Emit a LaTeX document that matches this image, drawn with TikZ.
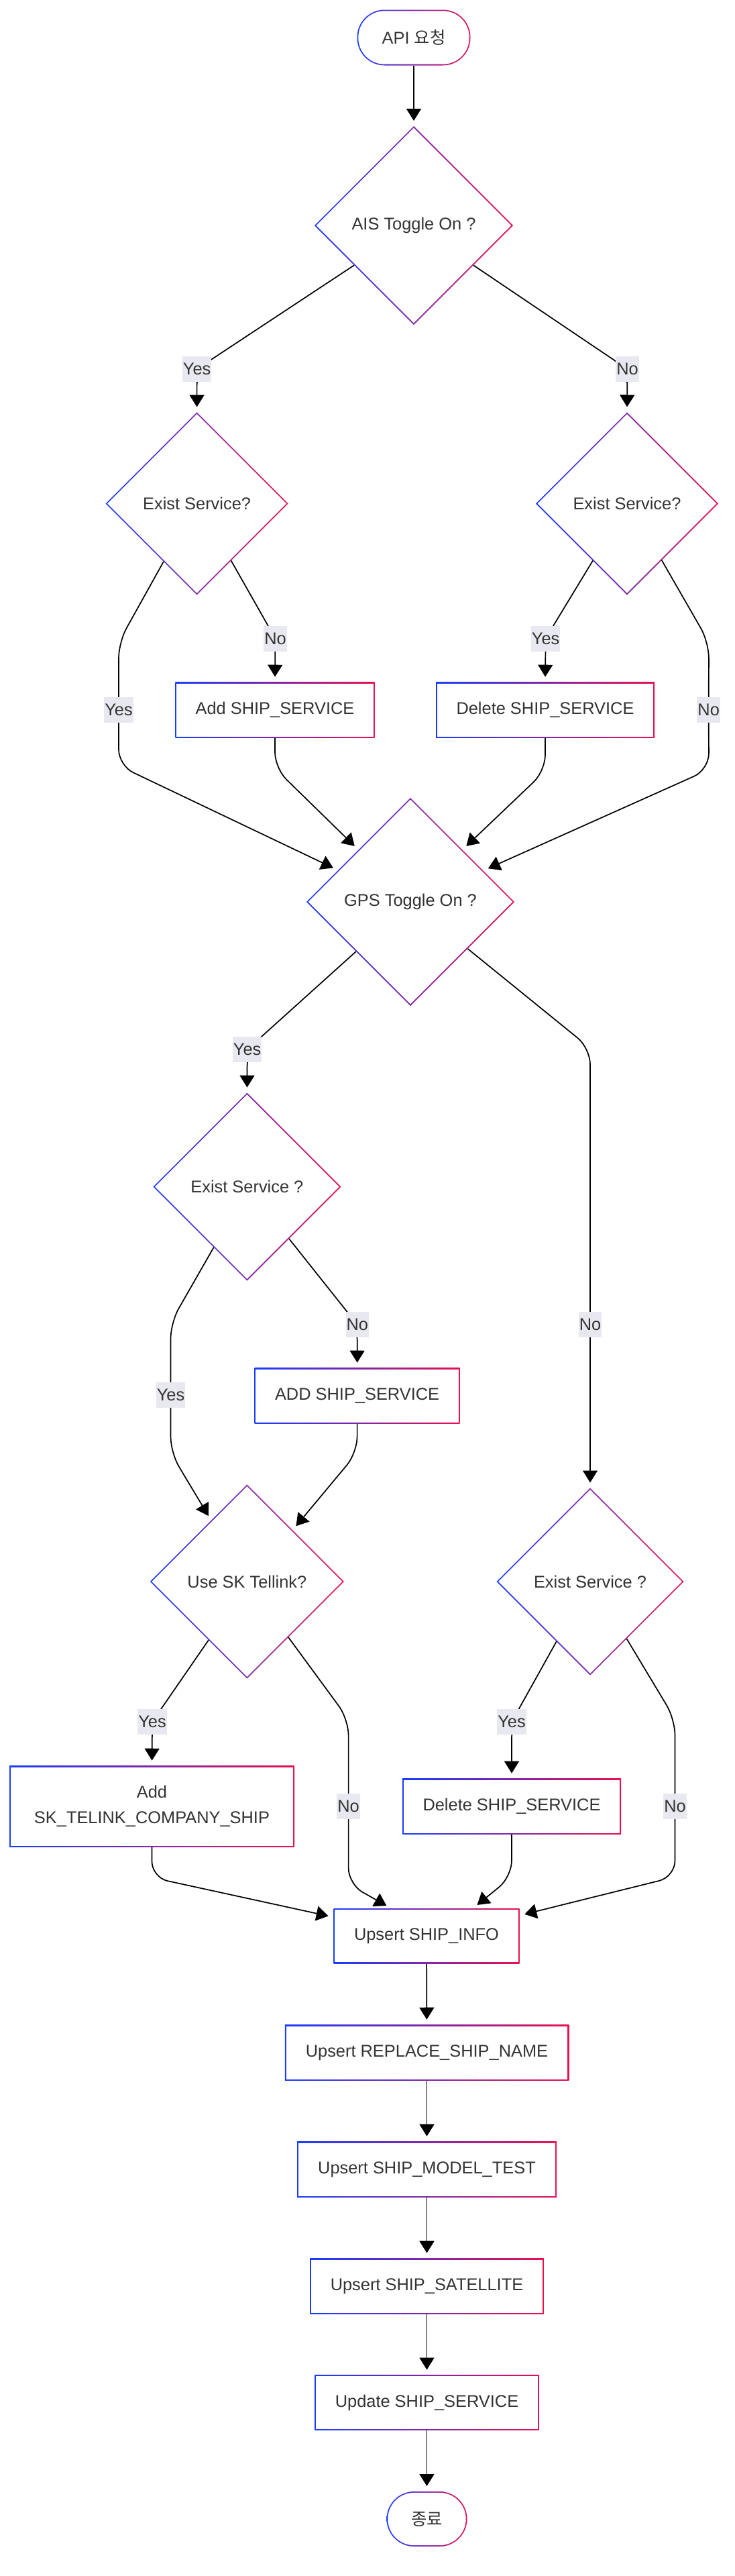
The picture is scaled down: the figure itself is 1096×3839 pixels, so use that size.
\documentclass[tikz,border=0pt]{standalone}
\usepackage{fontspec}
\setmainfont{Liberation Sans}
\newfontfamily\kr{Noto Sans CJK KR}
\usetikzlibrary{shapes.geometric,arrows.meta,calc}
\definecolor{cblue}{RGB}{25,60,255}
\definecolor{cred}{RGB}{232,16,80}
\definecolor{txt}{HTML}{333333}
\definecolor{lblbg}{HTML}{E8E8F0}
\pgfdeclarelayer{bgl}
\pgfdeclarelayer{edges}
\pgfsetlayers{bgl,edges,main}
\newcommand\brdw{0.9pt}
\newcommand\brdd{1.27pt}
\tikzset{
  base/.style={inner sep=0pt, outer sep=0pt, text=txt, align=center,
    font=\fontsize{12.7pt}{19pt}\selectfont,
    left color=cblue, right color=cred},
  box/.style={base, rectangle,
    path picture={\fill[white] ([shift={(\brdw,\brdw)}]path picture bounding box.south west) rectangle ([shift={(-\brdw,-\brdw)}]path picture bounding box.north east);}},
  dia/.style={base, diamond, aspect=1,
    path picture={\fill[white] ([yshift=-\brdd]path picture bounding box.north) -- ([xshift=-\brdd]path picture bounding box.east) -- ([yshift=\brdd]path picture bounding box.south) -- ([xshift=\brdd]path picture bounding box.west) -- cycle;}},
  pill/.style={base, rectangle, rounded corners=20.5pt,
    path picture={\fill[white, rounded corners=19.6pt] ([shift={(\brdw,\brdw)}]path picture bounding box.south west) rectangle ([shift={(-\brdw,-\brdw)}]path picture bounding box.north east);}},
  lbl/.style={fill=lblbg, text=txt, inner xsep=0.5pt, inner ysep=0pt, outer sep=0pt,
    minimum height=19pt, font=\fontsize{12.7pt}{19pt}\selectfont},
  edge/.style={draw=black, line width=0.85pt, rounded corners=12pt,
    -{Triangle[length=9pt,width=11pt]}, shorten >=4pt},
}
\begin{document}
\begin{tikzpicture}[x=0.5pt,y=-0.5pt]
\useasboundingbox (0,0) rectangle (1096,3839);
\begin{pgfonlayer}{bgl}
\fill[white] (0,0) rectangle (1096,3839);
\end{pgfonlayer}

% nodes
\node[pill, minimum width=84.5pt, minimum height=41.5pt] (start) at (617,56) {API {\kr 요청}};
\node[dia, minimum width=148pt, minimum height=148pt] (ais) at (617,336) {AIS Toggle On ?};
\node[dia, minimum width=136pt, minimum height=136pt] (e1) at (293.6,750.5) {Exist Service?};
\node[dia, minimum width=136pt, minimum height=136pt] (e2) at (935,750.5) {Exist Service?};
\node[box, minimum width=148.5pt, minimum height=41.3pt] (a1) at (410,1058) {Add SHIP\_SERVICE};
\node[box, minimum width=163pt, minimum height=41.3pt] (d1) at (813,1058) {Delete SHIP\_SERVICE};
\node[dia, minimum width=155pt, minimum height=155pt] (gps) at (612,1344) {GPS Toggle On ?};
\node[dia, minimum width=140pt, minimum height=140pt] (e3) at (368.4,1768.6) {Exist Service ?};
\node[box, minimum width=153pt, minimum height=41.3pt] (a2) at (532.6,2080) {ADD SHIP\_SERVICE};
\node[dia, minimum width=144.5pt, minimum height=144.5pt] (sk) at (368.4,2357) {Use SK Tellink?};
\node[dia, minimum width=139.5pt, minimum height=139.5pt] (e4) at (880,2357) {Exist Service ?};
\node[box, minimum width=212.5pt, minimum height=60.3pt] (as) at (226.5,2692) {Add\\SK\_TELINK\_COMPANY\_SHIP};
\node[box, minimum width=163pt, minimum height=41.3pt] (d2) at (763,2692) {Delete SHIP\_SERVICE};
\node[box, minimum width=138.5pt, minimum height=41pt] (u1) at (636,2885) {Upsert SHIP\_INFO};
\node[box, minimum width=211.75pt, minimum height=41.3pt] (u2) at (636.5,3059) {Upsert REPLACE\_SHIP\_NAME};
\node[box, minimum width=193.3pt, minimum height=41.3pt] (u3) at (636.5,3233) {Upsert SHIP\_MODEL\_TEST};
\node[box, minimum width=174.4pt, minimum height=41.3pt] (u4) at (636.5,3407) {Upsert SHIP\_SATELLITE};
\node[box, minimum width=167.4pt, minimum height=41pt] (u5) at (636.5,3580.6) {Update SHIP\_SERVICE};
\node[pill, minimum width=60pt, minimum height=41pt] (fin) at (636.5,3754) {{\kr 종료}};

% edge labels
\node[lbl] (l1) at (293.6,550) {Yes};
\node[lbl] (l2) at (935.5,550) {No};
\node[lbl] (l3) at (177,1058) {Yes};
\node[lbl] (l4) at (410.5,951.5) {No};
\node[lbl] (l5) at (813.6,951.5) {Yes};
\node[lbl] (l6) at (1056.7,1058) {No};
\node[lbl] (l7) at (368.7,1564) {Yes};
\node[lbl] (l8) at (880,1974) {No};
\node[lbl] (l9) at (254.5,2079) {Yes};
\node[lbl] (l10) at (532.8,1974) {No};
\node[lbl] (l11) at (227,2566) {Yes};
\node[lbl] (l12) at (519.6,2692) {No};
\node[lbl] (l13) at (763,2566) {Yes};
\node[lbl] (l14) at (1006.5,2692) {No};

% edges
\begin{pgfonlayer}{edges}
\draw[edge] (start) -- (ais);
\draw[edge] ($(ais.west)!0.4!(ais.south)$) -- (l1.center) -- (e1.north);
\draw[edge] ($(ais.east)!0.4!(ais.south)$) -- (l2.center) -- (e2.north);
\draw[edge] ($(e1.west)!0.635!(e1.south)$) -- (177,957) -- (l3.center) -- (177,1141) -- ($(gps.west)!0.304!(gps.north)$);
\draw[edge] ($(e1.east)!0.625!(e1.south)$) -- (l4.center) -- (a1.north);
\draw[edge] ($(e2.west)!0.625!(e2.south)$) -- (l5.center) -- (d1.north);
\draw[edge] ($(e2.east)!0.62!(e2.south)$) -- (1057,957) -- (l6.center) -- (1057,1147) -- ($(gps.east)!0.3!(gps.north)$);
\draw[edge] (a1.south) -- (410,1145) -- (gps.north west);
\draw[edge] (d1.south) -- (813,1149) -- (gps.north east);
\draw[edge] ($(gps.west)!0.477!(gps.south)$) -- (l7.center) -- (e3.north);
\draw[edge] ($(gps.east)!0.45!(gps.south)$) -- (880,1562) -- (l8.center) -- (e4.north);
\draw[edge] ($(e3.west)!0.645!(e3.south)$) -- (254.5,1971) -- (l9.center) -- (254.5,2165) -- ($(sk.west)!0.63!(sk.north)$);
\draw[edge] ($(e3.east)!0.553!(e3.south)$) -- (l10.center) -- (a2.north);
\draw[edge] (a2.south) -- (532.6,2165) -- ($(sk.north)!0.47!(sk.east)$);
\draw[edge] ($(sk.west)!0.603!(sk.south)$) -- (l11.center) -- (as.north);
\draw[edge] ($(sk.east)!0.574!(sk.south)$) -- (519.6,2562) -- (l12.center) -- (519.6,2808) -- ($(u1.north west)!0.31!(u1.north east)$);
\draw[edge] ($(e4.west)!0.64!(e4.south)$) -- (l13.center) -- (d2.north);
\draw[edge] ($(e4.east)!0.61!(e4.south)$) -- (1006.5,2562) -- (l14.center) -- (1006.5,2797) -- ($(u1.north east)!0.13!(u1.south east)$);
\draw[edge] (as.south) -- (226.5,2798) -- ($(u1.north west)!0.16!(u1.south west)$);
\draw[edge] (d2.south) -- (763,2797) -- ($(u1.north west)!0.75!(u1.north east)$);
\draw[edge] (u1) -- (u2);
\draw[edge] (u2) -- (u3);
\draw[edge] (u3) -- (u4);
\draw[edge] (u4) -- (u5);
\draw[edge] (u5) -- (fin);
\end{pgfonlayer}
\end{tikzpicture}
\end{document}
